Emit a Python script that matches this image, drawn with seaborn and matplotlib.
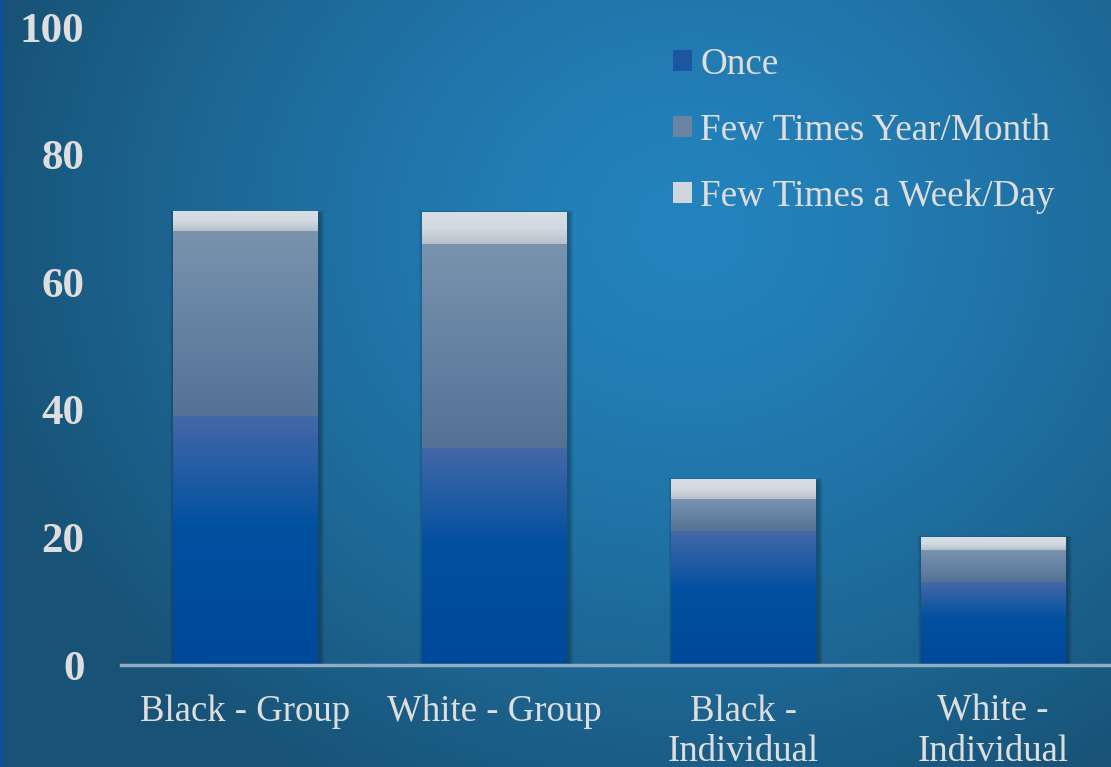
import numpy as np
import matplotlib
matplotlib.use("Agg")
import matplotlib.pyplot as plt
import seaborn as sns
from matplotlib.colors import to_rgb
from matplotlib.patches import Patch, Rectangle

# ---- data -------------------------------------------------------------
categories = ["Black - Group", "White - Group", "Black - Individual", "White - Individual"]
tick_labels = ["Black - Group", "White - Group", "Black -\nIndividual", "White -\nIndividual"]
series = ["Once", "Few Times Year/Month", "Few Times a Week/Day"]
once = [39, 34, 21, 13]
few_year_month = [29, 32, 5, 5]
few_week_day = [3, 5, 3, 2]
y_ticks = [0, 20, 40, 60, 80, 100]

# ---- style ------------------------------------------------------------
TEXT = "#dedede"
# (top colour, colour at a fraction down, bottom colour, fraction)
grad_once = ("#4468a8", "#0050a0", "#00489a", 0.45)
grad_year = ("#7a93ae", "#6683a4", "#537294", 0.5)
grad_week = ("#d7dee4", "#d2d9e0", "#b7c1cb", 0.5)
flat = ["#1c55a0", "#6a85a3", "#cfd6de"]

sns.set_theme(style="white")
plt.rcParams["font.family"] = ["Liberation Serif", "DejaVu Serif"]

W, H = 1111, 767
fig = plt.figure(figsize=(W / 100, H / 100), dpi=100)

# radial background
bg = fig.add_axes([0, 0, 1, 1], zorder=-10)
yy, xx = np.mgrid[0:H, 0:W]
r = np.sqrt(((xx - 690) / 720.0) ** 2 + ((yy - 230) / 640.0) ** 2)
t = np.clip(r, 0, 1) ** 1.4
c0 = np.array(to_rgb("#2483bd"))
c1 = np.array(to_rgb("#185377"))
img = c0 * (1 - t[..., None]) + c1 * t[..., None]
bg.imshow(img, extent=[0, 1, 0, 1], aspect="auto", origin="upper")
bg.add_patch(Rectangle((0, 0), 2 / W, 1, transform=bg.transAxes, color="#0a50a0"))
bg.set_xlim(0, 1)
bg.set_ylim(0, 1)
bg.axis("off")

ax = fig.add_axes([120.5 / W, (H - 665) / H, 997 / W, 638 / H])
ax.patch.set_alpha(0)

# stacked bars: cumulative totals drawn from the tallest layer down
cum1 = np.array(once, dtype=float)
cum2 = cum1 + np.array(few_year_month)
cum3 = cum2 + np.array(few_week_day)
layers = [(cum3, flat[2]), (cum2, flat[1]), (cum1, flat[0])]
for vals, col in layers:
    sns.barplot(x=categories, y=vals, color=col, width=0.58, saturation=1,
                linewidth=0, ax=ax, zorder=2)


def gradient_column(spec, n=200):
    top, mid, bot, f = spec
    top, mid, bot = (np.array(to_rgb(c)) for c in (top, mid, bot))
    s = np.linspace(0, 1, n)
    out = np.empty((n, 1, 3))
    for i, v in enumerate(s):
        if v <= f:
            a = v / f
            out[i, 0] = top * (1 - a) + mid * a
        else:
            a = (v - f) / (1 - f)
            out[i, 0] = mid * (1 - a) + bot * a
    return out


top_patches = ax.patches[:len(categories)]
px_x = 1 / 249.25
px_y = 100 / 638.0
segments = [(np.zeros(len(cum1)), cum1, grad_once),
            (cum1, cum2, grad_year),
            (cum2, cum3, grad_week)]
for i, p in enumerate(top_patches):
    x0, w = p.get_x(), p.get_width()
    # soft shadow
    for k in range(1, 9):
        ax.add_patch(Rectangle((x0 - k * px_x * 0.6 + 2 * px_x, 0),
                               w + k * px_x * 1.2,
                               cum3[i] + k * px_y * 0.5 - 2 * px_y,
                               facecolor="black", alpha=0.035, lw=0, zorder=1))
    for lo, hi, spec in segments:
        ax.imshow(gradient_column(spec), extent=[x0, x0 + w, lo[i], hi[i]],
                  aspect="auto", origin="upper", zorder=3, interpolation="bilinear")

ax.set_xlim(-0.5, len(categories) - 0.5)
ax.set_ylim(0, 100)
ax.set_yticks(y_ticks)
ax.set_yticklabels([str(v) for v in y_ticks], fontsize=31, fontweight="bold", color=TEXT)
ax.set_xticks(range(len(categories)))
ax.set_xticklabels(tick_labels, fontsize=26.5, color=TEXT, linespacing=1.22)
ax.tick_params(axis="y", length=0, pad=36 * 0.72)
ax.tick_params(axis="x", length=0, pad=21)
ax.set_xlabel("")
ax.set_ylabel("")
for side in ("top", "right", "left"):
    ax.spines[side].set_visible(False)
ax.spines["bottom"].set_color("#8eaec6")
ax.spines["bottom"].set_linewidth(2.5)
ax.spines["bottom"].set_zorder(5)
ax.grid(False)

handles = [Patch(facecolor=c, edgecolor="none") for c in flat]
fig.legend(handles, series, loc="upper left", bbox_to_anchor=(673 / W, (H - 47) / H),
           frameon=False, fontsize=26.7, handlelength=0.52, handleheight=0.52,
           handletextpad=0.22, labelspacing=0.85, borderaxespad=0, borderpad=0,
           labelcolor=TEXT)

fig.savefig("out.png", dpi=100)
